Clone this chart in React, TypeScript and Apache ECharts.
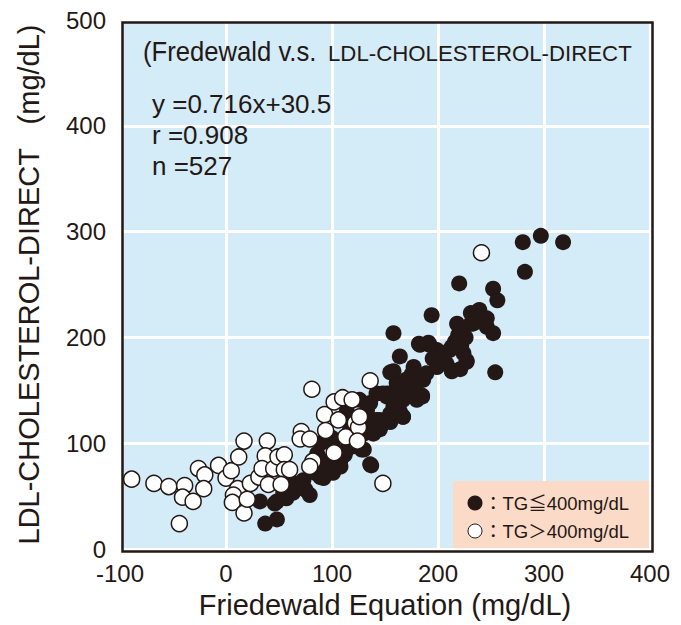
import React, { useEffect, useRef } from "react";
import * as echarts from "echarts";

// TG <= 400 mg/dL (filled)
const lowTgPoints: [number, number][] = [
  [37, 24], [48, 28], [32, 45], [46, 43], [48, 45], [57, 48], [54, 53], [60, 53],
  [67, 59], [57, 59], [63, 53], [68, 62], [60, 63], [73, 65], [79, 51], [75, 56],
  [84, 72], [89, 68], [92, 67], [101, 72], [95, 81], [98, 84], [108, 78], [108, 84],
  [112, 89], [114, 94], [86, 90], [86, 84], [104, 84], [101, 97], [89, 100], [98, 106],
  [100, 105], [95, 109], [117, 98], [120, 97], [117, 113], [128, 94], [130, 94], [136, 80],
  [137, 79], [114, 130], [133, 119], [139, 109], [142, 122], [145, 113], [146, 116],
  [155, 120], [130, 109], [139, 113], [145, 122], [154, 125], [164, 130], [133, 131],
  [114, 128], [126, 141], [136, 138], [142, 147], [152, 147], [155, 128], [148, 119],
  [164, 128], [158, 131], [167, 125], [167, 141], [164, 141], [170, 144], [180, 141],
  [180, 147], [185, 145], [185, 144], [152, 144], [158, 135], [161, 157], [170, 160],
  [174, 153], [186, 160], [180, 157], [158, 168], [155, 167], [164, 182], [177, 172],
  [189, 166], [199, 172], [208, 175], [213, 169], [213, 168], [221, 170], [227, 178],
  [227, 177], [224, 185], [211, 188], [199, 188], [183, 193], [192, 193], [182, 194],
  [191, 195], [213, 191], [222, 193], [219, 202], [221, 204], [158, 204], [194, 221],
  [218, 213], [231, 213], [231, 223], [239, 226], [246, 218], [246, 210], [252, 204],
  [233, 213], [220, 251], [252, 246], [256, 235], [254, 167], [280, 290], [297, 296],
  [318, 290], [282, 262], [171, 160], [167, 125], [148, 147], [161, 153],
  [205, 180], [216, 196], [226, 200], [236, 219], [195, 180], [175, 165],
];

// TG > 400 mg/dL (open)
const highTgPoints: [number, number][] = [
  [-89, 66], [-68, 62], [-54, 59], [-39, 60], [-41, 49], [-31, 45], [-44, 24], [-26, 76],
  [-20, 70], [-21, 57], [-7, 79], [0, 67], [5, 74], [12, 87], [17, 102], [11, 57],
  [7, 51], [6, 44], [17, 34], [20, 47], [23, 62], [31, 68], [39, 102], [37, 88],
  [34, 76], [40, 61], [45, 76], [49, 87], [55, 89], [55, 75], [60, 75], [52, 61],
  [81, 151], [71, 111], [70, 104], [79, 104], [82, 83], [79, 78], [93, 127], [94, 112],
  [102, 139], [110, 143], [119, 141], [106, 122], [102, 91], [113, 106], [122, 119],
  [125, 115], [124, 102], [136, 159], [148, 62], [126, 125], [241, 280],
];

const statLines = ["y =0.716x+30.5", "r =0.908", "n =527"];
const legendLabels = ["：TG≦400mg/dL", "：TG＞400mg/dL"];

const INK = "#231815";
const FONT = "'Liberation Sans', Arial, sans-serif";
const LEGEND_FONT = "'Liberation Sans', 'Noto Sans CJK JP', sans-serif";

const App: React.FC = () => {
  const chartRef = useRef<HTMLDivElement>(null);

  useEffect(() => {
    const dom = chartRef.current;
    if (!dom) return;
    const chart = echarts.init(dom, null, { renderer: "svg" });

    const option: echarts.EChartsOption = {
      animation: false,
      backgroundColor: "#ffffff",
      textStyle: { fontFamily: FONT },
      grid: {
        left: 120,
        top: 20,
        right: 31,
        bottom: 76,
        show: true,
        backgroundColor: "#d4ebf8",
        borderWidth: 0,
      },
      xAxis: {
        type: "value",
        min: -100,
        max: 400,
        interval: 100,
        name: "Friedewald Equation (mg/dL)",
        nameLocation: "middle",
        nameGap: 41,
        nameTextStyle: { color: INK, fontSize: 29, fontFamily: FONT },
        axisLine: { show: false },
        axisTick: { show: false },
        axisLabel: { color: INK, fontSize: 24, margin: 12, fontFamily: FONT },
        splitLine: { lineStyle: { color: "#ffffff", width: 3 } },
      },
      yAxis: {
        type: "value",
        min: 0,
        max: 500,
        interval: 100,
        name: "LDL-CHOLESTEROL-DIRECT   (mg/dL)",
        nameLocation: "middle",
        nameGap: 77,
        nameRotate: 90,
        nameTextStyle: { color: INK, fontSize: 29, fontFamily: FONT },
        axisLine: { show: false },
        axisTick: { show: false },
        axisLabel: { color: INK, fontSize: 24, margin: 14, fontFamily: FONT },
        splitLine: { lineStyle: { color: "#ffffff", width: 3 } },
      },
      series: [
        {
          name: "TG<=400",
          type: "scatter",
          data: lowTgPoints,
          symbol: "circle",
          symbolSize: 16,
          itemStyle: { color: INK, opacity: 1 },
          z: 3,
        },
        {
          name: "TG>400",
          type: "scatter",
          data: highTgPoints,
          symbol: "circle",
          symbolSize: 16,
          itemStyle: { color: "#ffffff", borderColor: INK, borderWidth: 1.5, opacity: 1 },
          z: 4,
        },
      ],
      graphic: [
        {
          type: "rect",
          left: 120,
          top: 20,
          shape: { width: 530, height: 529 },
          style: { fill: "none", stroke: INK, lineWidth: 2.5 },
          z: 10,
          silent: true,
        },
        {
          type: "text",
          x: 143,
          y: 52,
          scaleX: 0.95,
          style: {
            text: "(Fredewald v.s. ",
            font: `27px ${FONT}`,
            fill: INK,
            verticalAlign: "middle",
          },
          z: 11,
        },
        {
          type: "text",
          x: 328,
          y: 54,
          scaleX: 1.01,
          style: {
            text: "LDL-CHOLESTEROL-DIRECT",
            font: `22px ${FONT}`,
            fill: INK,
            verticalAlign: "middle",
          },
          z: 11,
        },
        ...statLines.map((t, i) => ({
          type: "text" as const,
          x: 152,
          y: 104 + i * 31,
          scaleX: 1.04,
          style: {
            text: t,
            font: `25px ${FONT}`,
            fill: INK,
            verticalAlign: "middle" as const,
          },
          z: 11,
        })),
        {
          type: "rect",
          left: 453,
          top: 481,
          shape: { width: 196, height: 67 },
          style: { fill: "#fbdac7" },
          z: 9,
        },
        {
          type: "circle",
          shape: { cx: 475, cy: 503, r: 7.5 },
          style: { fill: INK },
          z: 11,
        },
        {
          type: "circle",
          shape: { cx: 475, cy: 531, r: 7 },
          style: { fill: "#ffffff", stroke: INK, lineWidth: 1 },
          z: 11,
        },
        ...legendLabels.map((t, i) => ({
          type: "text" as const,
          x: 484,
          y: 503 + i * 28,
          style: {
            text: t,
            font: `18.5px ${LEGEND_FONT}`,
            fill: INK,
            verticalAlign: "middle" as const,
          },
          z: 11,
        })),
      ],
    };

    chart.setOption(option);
    return () => {
      chart.dispose();
    };
  }, []);

  return (
    <div
      ref={chartRef}
      style={{ position: "fixed", left: 0, top: 0, width: 681, height: 625 }}
    />
  );
};

export default App;
